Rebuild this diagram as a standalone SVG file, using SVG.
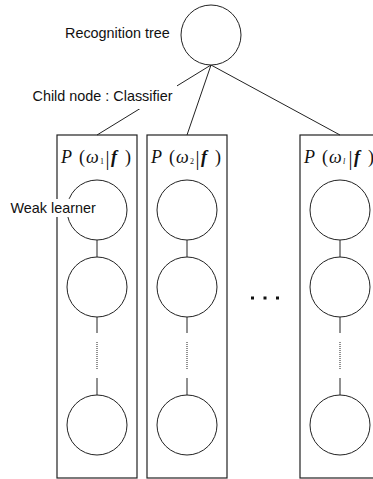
<svg xmlns="http://www.w3.org/2000/svg" width="373" height="479" viewBox="0 0 373 479">
<style>
.ln{stroke:#222;stroke-width:1;fill:none}
.box{stroke:#222;stroke-width:1.2;fill:none}
.nd{stroke:#222;stroke-width:1;fill:#fff}
.lbl{font-family:"Liberation Sans",Arial,sans-serif;font-size:14.4px;fill:#111}
.m{font-family:"Liberation Serif","DejaVu Serif",serif;font-size:18px;fill:#111}
.it{font-style:italic}
.bf{font-weight:bold;font-style:italic}
.sub{font-size:8px}
.bar{font-size:20px}
.dot{stroke:#222;stroke-width:1;stroke-dasharray:1,1;fill:none}
</style>
<g id="connectors">
<line class="ln" x1="211" y1="65" x2="97" y2="135"/>
<line class="ln" x1="211" y1="65" x2="187" y2="135"/>
<line class="ln" x1="211" y1="65" x2="340" y2="135"/>
<line class="ln" x1="97" y1="240" x2="97" y2="257"/>
<line class="ln" x1="97" y1="317" x2="97" y2="333"/>
<line class="dot" x1="97" y1="342" x2="97" y2="369"/>
<line class="ln" x1="97" y1="378" x2="97" y2="395"/>
<line class="ln" x1="187" y1="240" x2="187" y2="257"/>
<line class="ln" x1="187" y1="317" x2="187" y2="333"/>
<line class="dot" x1="187" y1="342" x2="187" y2="369"/>
<line class="ln" x1="187" y1="378" x2="187" y2="395"/>
<line class="ln" x1="340" y1="240" x2="340" y2="257"/>
<line class="ln" x1="340" y1="317" x2="340" y2="333"/>
<line class="dot" x1="340" y1="342" x2="340" y2="369"/>
<line class="ln" x1="340" y1="378" x2="340" y2="395"/>
</g>
<g id="root">
<circle class="nd" cx="211" cy="35" r="30"/>
<text class="lbl" x="65" y="37.5">Recognition tree</text>
</g>
<g id="child-label">
<rect x="30" y="85" width="147" height="24" fill="#fff"/>
<text class="lbl" x="32.5" y="101">Child node : Classifier</text>
</g>
<g id="classifier1">
<rect class="box" x="57" y="135" width="80" height="343"/>
<text class="m" y="163"><tspan class="it" x="61">P</tspan><tspan x="79">(</tspan><tspan class="it" x="86">ω</tspan><tspan class="sub" x="100" y="164">1</tspan><tspan class="bar" x="105.5" y="165">|</tspan><tspan class="bf" x="111" y="163">f</tspan><tspan x="125">)</tspan></text>
<circle class="nd" cx="97" cy="210" r="30"/>
<circle class="nd" cx="97" cy="287" r="30"/>
<circle class="nd" cx="97" cy="425" r="30"/>
</g>
<g id="classifier2">
<rect class="box" x="147" y="135" width="80" height="343"/>
<text class="m" y="163"><tspan class="it" x="151">P</tspan><tspan x="169">(</tspan><tspan class="it" x="176">ω</tspan><tspan class="sub" x="190" y="164">2</tspan><tspan class="bar" x="195.5" y="165">|</tspan><tspan class="bf" x="201" y="163">f</tspan><tspan x="215">)</tspan></text>
<circle class="nd" cx="187" cy="210" r="30"/>
<circle class="nd" cx="187" cy="287" r="30"/>
<circle class="nd" cx="187" cy="425" r="30"/>
</g>
<g id="classifier3">
<rect class="box" x="300" y="135" width="80" height="343"/>
<text class="m" y="163"><tspan class="it" x="304">P</tspan><tspan x="322">(</tspan><tspan class="it" x="329">ω</tspan><tspan class="sub it" x="343" y="164">l</tspan><tspan class="bar" x="348.5" y="165">|</tspan><tspan class="bf" x="354" y="163">f</tspan><tspan x="368">)</tspan></text>
<circle class="nd" cx="340" cy="210" r="30"/>
<circle class="nd" cx="340" cy="287" r="30"/>
<circle class="nd" cx="340" cy="425" r="30"/>
</g>
<g id="weak-learner">
<rect x="8" y="199" width="85" height="18" fill="#fff"/>
<text class="lbl" x="10.5" y="213">Weak learner</text>
</g>
<g id="ellipsis" fill="#111">
<rect x="251" y="296.5" width="3" height="3"/>
<rect x="263.5" y="296.5" width="3" height="3"/>
<rect x="276" y="296.5" width="3" height="3"/>
</g>
</svg>
